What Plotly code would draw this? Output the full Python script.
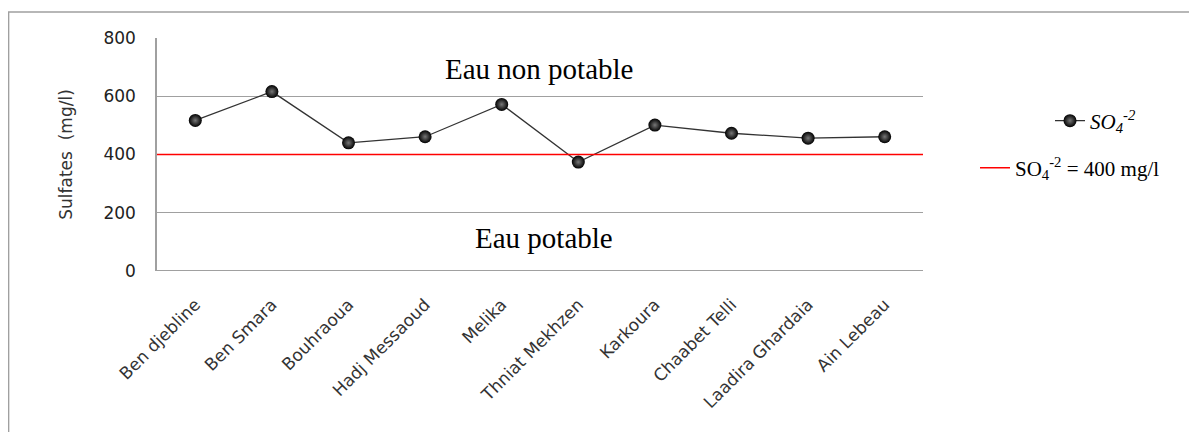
import plotly.graph_objects as go

sites = ["Ben djebline", "Ben Smara", "Bouhraoua", "Hadj Messaoud", "Melika",
         "Thniat Mekhzen", "Karkoura", "Chaabet Telli", "Laadira Ghardaia", "Ain Lebeau"]
sulfates = [517, 616, 440, 461, 572, 374, 501, 473, 456, 461]
limit_value = 400
y_ticks = [0, 200, 400, 600, 800]

# page offset (browser body margin)
OX, OY = 8, 7
W, H = 1197, 432
L, R, T, B = 157 - OX, 923 - OX, 37 - OY, 270 - OY


def px_x(p):
    return (p - OX - L) / (R - L)


def px_y(p):
    return (B - (p - OY)) / (B - T)


xs = list(range(len(sites)))

fig = go.Figure()
fig.add_trace(go.Scatter(
    x=xs, y=sulfates, mode="lines+markers",
    name="<i>SO<sub>4</sub><sup>-2</sup></i>",
    line=dict(color="#333333", width=1.3),
    marker=dict(size=13, color="#000000",
                gradient=dict(type="radial", color="#777777"),
                line=dict(width=0)),
    legend="legend",
))
fig.add_trace(go.Scatter(
    x=[-0.5, len(sites) - 0.5], y=[limit_value, limit_value], mode="lines",
    name="SO<sub>4</sub><sup>-2</sup> = 400 mg/l",
    line=dict(color="#ff0000", width=1.5),
    legend="legend2",
))

fig.update_layout(
    width=W, height=H,
    margin=dict(l=L, r=W - R, t=T, b=H - B, autoexpand=False),
    paper_bgcolor="white", plot_bgcolor="white",
    font=dict(family="DejaVu Sans", color="#222222"),
    xaxis=dict(
        range=[-0.5, len(sites) - 0.5], tickvals=xs, ticktext=sites,
        tickangle=-45, tickfont=dict(size=17, color="#333333", family="DejaVu Sans"),
        showgrid=False, zeroline=False, showline=False, ticks="outside",
        ticklen=16, tickcolor="rgba(0,0,0,0)",
    ),
    yaxis=dict(
        range=[0, 800], tickvals=y_ticks,
        tickfont=dict(size=17, color="#222222", family="DejaVu Sans"),
        showgrid=True, gridcolor="#a0a0a0", gridwidth=1,
        zeroline=False, showline=True, linecolor="#a0a0a0", linewidth=1.5,
        ticks="outside", ticklen=16, tickcolor="rgba(0,0,0,0)",
        title=dict(text="Sulfates  (mg/l)", font=dict(size=17, color="#333333",
                   family="DejaVu Sans"), standoff=26),
    ),
    legend=dict(
        x=px_x(1050), y=px_y(120), xanchor="left", yanchor="middle",
        font=dict(family="Liberation Serif", size=21, color="#000000"),
        bgcolor="rgba(0,0,0,0)", itemwidth=30,
    ),
    legend2=dict(
        x=px_x(975), y=px_y(167), xanchor="left", yanchor="middle",
        font=dict(family="Liberation Serif", size=21, color="#000000"),
        bgcolor="rgba(0,0,0,0)", itemwidth=30,
    ),
    showlegend=True,
)

# bottom axis line at 0
fig.add_shape(type="line", xref="paper", yref="y", x0=0, x1=1, y0=0, y1=0,
              line=dict(color="#a0a0a0", width=2))
# outer chart frame
fig.add_shape(type="rect", xref="paper", yref="paper",
              x0=-L / (R - L) + 0.6 / (R - L), x1=px_x(1215),
              y0=px_y(11), y1=px_y(460),
              line=dict(color="#a0a0a0", width=1.5), layer="below")

fig.add_annotation(text="Eau non potable", xref="paper", yref="paper",
                   x=px_x(539), y=px_y(68), xanchor="center", yanchor="middle",
                   showarrow=False,
                   font=dict(family="Liberation Serif", size=29, color="#000000"))
fig.add_annotation(text="Eau potable", xref="paper", yref="paper",
                   x=px_x(544), y=px_y(237), xanchor="center", yanchor="middle",
                   showarrow=False,
                   font=dict(family="Liberation Serif", size=29, color="#000000"))

fig.write_html("out.html")
